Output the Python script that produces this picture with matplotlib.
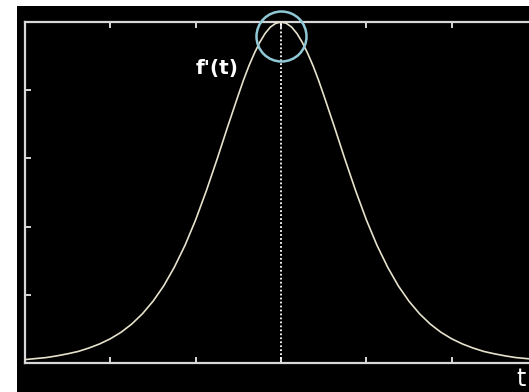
import matplotlib
matplotlib.use("Agg")
import matplotlib.pyplot as plt
from matplotlib.patches import Rectangle

# Curve values (normalised so the peak = 1)
t_vals = [-6, -5.75, -5.5, -5.25, -5, -4.75, -4.5, -4.25, -4, -3.75, -3.5, -3.25, -3, -2.75,
          -2.5, -2.25, -2, -1.75, -1.5, -1.25, -1, -0.875, -0.75, -0.625, -0.5, -0.375,
          -0.25, -0.125, 0, 0.125, 0.25, 0.375, 0.5, 0.625, 0.75, 0.875, 1, 1.25, 1.5,
          1.75, 2, 2.25, 2.5, 2.75, 3, 3.25, 3.5, 3.75, 4, 4.25, 4.5, 4.75, 5, 5.25, 5.5,
          5.75, 6]
f_vals = [0.010, 0.013, 0.016, 0.021, 0.027, 0.034, 0.044, 0.056, 0.071, 0.090, 0.114,
          0.144, 0.181, 0.226, 0.281, 0.345, 0.420, 0.505, 0.597, 0.693, 0.786, 0.831,
          0.872, 0.908, 0.940, 0.966, 0.985, 0.996, 1.0, 0.996, 0.985, 0.966, 0.940,
          0.908, 0.872, 0.831, 0.786, 0.693, 0.597, 0.505, 0.420, 0.345, 0.281, 0.226,
          0.181, 0.144, 0.114, 0.090, 0.071, 0.056, 0.044, 0.034, 0.027, 0.021, 0.016,
          0.013, 0.010]
x_ticks = [-4, -2, 0, 2, 4]
y_ticks = [0.2, 0.4, 0.6, 0.8]
peak_t = 0
curve_label = "f'(t)"
axis_label = "t"

W, H = 529, 392
fig = plt.figure(figsize=(W / 100, H / 100), dpi=100, facecolor="white")
bg = Rectangle((17 / W, 0), 1, (H - 6) / H, transform=fig.transFigure,
               facecolor="black", edgecolor="none", zorder=-10)
fig.add_artist(bg)

ax = fig.add_axes([25 / W, (H - 363) / H, 512 / W, 341 / H])
ax.set_zorder(5)
ax.set_facecolor("black")
ax.set_xlim(-6, 6)
ax.set_ylim(0, 1)

spine_c = "#d8d8d8"
for s in ax.spines.values():
    s.set_color(spine_c)
    s.set_linewidth(1.6)

ax.plot(t_vals, f_vals, color="#e6e2cc", lw=1.2, zorder=3, solid_joinstyle="round")
ax.axvline(peak_t, color="white", lw=1.3, ls=(0, (1, 1.2)), zorder=2)
ax.plot([peak_t], [0.96], marker="o", markersize=36, markerfacecolor="none",
        markeredgecolor="#8fc8d6", markeredgewidth=1.8, zorder=4, clip_on=False)

ax.text(-1.49, 0.865, curve_label, color="white", fontsize=14.5, ha="center", va="center",
        fontweight="bold")
fig.text(521 / W, (H - 379) / H, axis_label, color="white",
         fontsize=17, ha="center", va="center", zorder=10)

ax.set_xticks(x_ticks)
ax.set_yticks(y_ticks)
ax.tick_params(axis="both", direction="in", length=4, width=1.4, color=spine_c,
               labelbottom=False, labelleft=False, top=True, right=True)

fig.savefig("out.png", dpi=100, facecolor="white")
